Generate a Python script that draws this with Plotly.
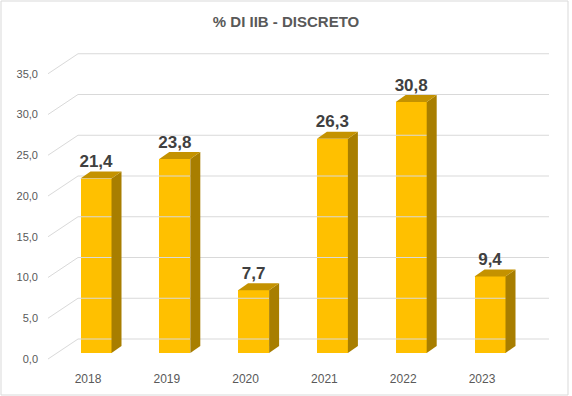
import plotly.graph_objects as go

# ---- data ----
YEARS = ["2018", "2019", "2020", "2021", "2022", "2023"]
VALUES = [21.4, 23.8, 7.7, 26.3, 30.8, 9.4]
Y_TICKS = [0, 5, 10, 15, 20, 25, 30, 35]
TITLE = "% DI IIB - DISCRETO"

# ---- layout geometry (pixels) ----
W, H = 572, 396
ML, MR, MT, MB = 42, 4, 0, 30
PX_X = 78.8          # pixels per category step
X0_PX = 96           # pixel centre of first bar
PX_Y = 8.15          # pixels per value unit
Y0_PX = 359          # pixel of tick 0 label
plot_w = W - ML - MR
plot_h = H - MT - MB

xmin = -(X0_PX - ML) / PX_X
xmax = xmin + plot_w / PX_X
ymin = -((H - MB) - Y0_PX) / PX_Y
ymax = ymin + plot_h / PX_Y


def xd(px):
    return (px - X0_PX) / PX_X


BASE = (Y0_PX - 353) / PX_Y      # front bottom of bars
DX = 10 / PX_X                   # depth in x
DY = 7 / PX_Y                    # depth in y
WALL = 20 / PX_Y                 # back wall offset
BW = 31 / PX_X                   # bar width

FRONT = "#FFC000"
SIDE = "#A87E00"
TOP = "#C49200"
GRID = "#D9D9D9"

fig = go.Figure()

# back wall gridlines with perspective slant
gx, gy = [], []
for t in Y_TICKS:
    gx += [xd(48), xd(78), xd(549), None]
    gy += [t, t + WALL, t + WALL, None]
fig.add_trace(go.Scatter(x=gx, y=gy, mode="lines", line=dict(color=GRID, width=1),
                         hoverinfo="skip", showlegend=False))

idx = list(range(len(YEARS)))

# side and top faces
for i, v in zip(idx, VALUES):
    xr = i + BW / 2
    fig.add_trace(go.Scatter(
        x=[xr, xr + DX, xr + DX, xr, xr],
        y=[BASE, BASE + DY, BASE + v + DY, BASE + v, BASE],
        fill="toself", fillcolor=SIDE, mode="lines", line=dict(width=0, color=SIDE),
        hoverinfo="skip", showlegend=False))
    xl = i - BW / 2
    fig.add_trace(go.Scatter(
        x=[xl, xr, xr + DX, xl + DX, xl],
        y=[BASE + v, BASE + v, BASE + v + DY, BASE + v + DY, BASE + v],
        fill="toself", fillcolor=TOP, mode="lines", line=dict(width=0, color=TOP),
        hoverinfo="skip", showlegend=False))

# front faces
fig.add_trace(go.Bar(x=idx, y=VALUES, base=[BASE] * len(VALUES), width=BW,
                     marker=dict(color=FRONT, line=dict(width=0)),
                     hoverinfo="skip", showlegend=False))

# data labels
fig.add_trace(go.Scatter(
    x=idx, y=[BASE + v + DY for v in VALUES], mode="text",
    text=[f"{v:.1f}".replace(".", ",") for v in VALUES],
    textposition="top center",
    textfont=dict(family="Liberation Sans", size=17, color="#404040", weight="bold"),
    hoverinfo="skip", showlegend=False, cliponaxis=False))

# border
fig.add_shape(type="rect", xref="paper", yref="paper",
              x0=(1 - ML) / plot_w, x1=(568 - ML) / plot_w,
              y0=-(395 - (H - MB)) / plot_h, y1=(H - MB - 1) / plot_h,
              line=dict(color=GRID, width=1), fillcolor="rgba(0,0,0,0)")

fig.update_layout(
    width=W, height=H,
    margin=dict(l=ML, r=MR, t=MT, b=MB),
    paper_bgcolor="white", plot_bgcolor="white",
    separators=",.",
    bargap=0,
    title=dict(text=TITLE, x=0.5, xref="container", y=1 - 22 / H, yanchor="middle",
               font=dict(family="Liberation Sans", size=15, color="#595959", weight="bold")),
    xaxis=dict(range=[xmin, xmax], showgrid=False, zeroline=False, showline=False,
               automargin=False,
               tickmode="array", tickvals=[i - 8 / PX_X for i in idx], ticktext=YEARS,
               ticks="", tickfont=dict(family="Liberation Sans", size=12, color="#595959"),
               ticklabelstandoff=4, fixedrange=True),
    yaxis=dict(range=[ymin, ymax], showgrid=False, zeroline=False, showline=False,
               automargin=False,
               tickmode="array", tickvals=Y_TICKS, tickformat=".1f",
               ticks="", tickfont=dict(family="Liberation Sans", size=11, color="#595959"),
               ticklabelstandoff=3, fixedrange=True),
)

fig.write_html("out.html", config={"displayModeBar": False},
               post_script="document.body.style.margin='0';document.body.style.padding='0';")
